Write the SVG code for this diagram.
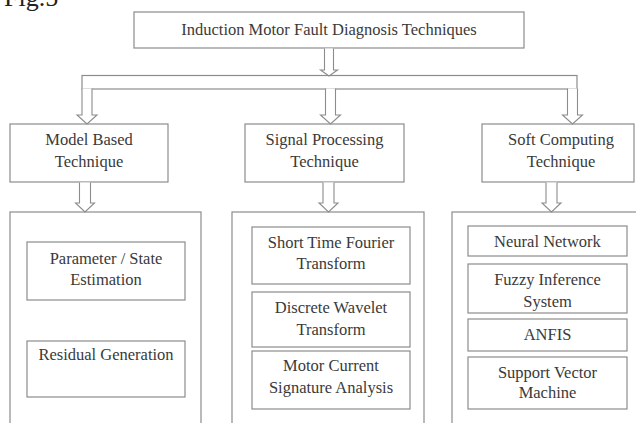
<svg xmlns="http://www.w3.org/2000/svg" width="636" height="423" viewBox="0 0 636 423">
<style>
.box{fill:#fff;stroke:#8c8c8c;stroke-width:1.2}
.arr{fill:#fff;stroke:#8c8c8c;stroke-width:1.1;stroke-linejoin:miter}
text{font-family:"Liberation Serif","Times New Roman",serif;font-size:16.5px;fill:#3a3a3a;text-anchor:middle}
</style>
<rect width="636" height="423" fill="#fff"/>
<text x="4" y="6" style="font-size:26px;text-anchor:start;fill:#222">Fig.5</text>

<g id="root">
<rect class="box" x="134" y="12" width="390" height="36"/>
<text x="329" y="35">Induction Motor Fault Diagnosis Techniques</text>
</g>

<g id="bar">
<rect class="box" x="82" y="75.5" width="495" height="13.5"/>
</g>

<g id="model">
<rect class="box" x="10" y="124" width="158" height="58"/>
<text x="89" y="145">Model Based</text>
<text x="89" y="167">Technique</text>
</g>
<g id="signal">
<rect class="box" x="245" y="124" width="159" height="58"/>
<text x="324.5" y="145">Signal Processing</text>
<text x="324.5" y="167">Technique</text>
</g>
<g id="soft">
<rect class="box" x="482" y="124" width="152" height="58"/>
<text x="561" y="145">Soft Computing</text>
<text x="561" y="167">Technique</text>
</g>

<g id="model-group">
<rect class="box" x="10" y="212" width="191" height="230"/>
<g id="param">
<rect class="box" x="27" y="242" width="158" height="58"/>
<text x="106" y="264">Parameter / State</text>
<text x="106" y="285">Estimation</text>
</g>
<g id="residual">
<rect class="box" x="27" y="341" width="158" height="56"/>
<text x="106" y="360">Residual Generation</text>
</g>
</g>

<g id="signal-group">
<rect class="box" x="232" y="212" width="192" height="230"/>
<g id="stft">
<rect class="box" x="252" y="227" width="158" height="57"/>
<text x="331" y="248">Short Time Fourier</text>
<text x="331" y="269">Transform</text>
</g>
<g id="dwt">
<rect class="box" x="252" y="292" width="158" height="55"/>
<text x="331" y="313">Discrete Wavelet</text>
<text x="331" y="335">Transform</text>
</g>
<g id="mcsa">
<rect class="box" x="252" y="351" width="158" height="58"/>
<text x="331" y="371">Motor Current</text>
<text x="331" y="393">Signature Analysis</text>
</g>
</g>

<g id="soft-group">
<rect class="box" x="452" y="212" width="200" height="230"/>
<g id="nn">
<rect class="box" x="468" y="226" width="159" height="30"/>
<text x="547.5" y="247">Neural Network</text>
</g>
<g id="fis">
<rect class="box" x="468" y="264" width="159" height="49"/>
<text x="547.5" y="285">Fuzzy Inference</text>
<text x="547.5" y="307">System</text>
</g>
<g id="anfis">
<rect class="box" x="468" y="319" width="159" height="32"/>
<text x="547.5" y="340">ANFIS</text>
</g>
<g id="svm">
<rect class="box" x="468" y="357" width="159" height="52"/>
<text x="547.5" y="378">Support Vector</text>
<text x="547.5" y="398">Machine</text>
</g>
</g>

<g id="connectors">
<path class="arr" d="M324.5,48.6 V70 H320.5 L329,76 L337.5,70 H333.5 V48.6"/>
<path class="arr" d="M82,88.4 V115 H77 L87,124 L97,115 H92 V88.4"/>
<path class="arr" d="M325.5,88.4 V115 H320.5 L330.5,124 L340.5,115 H335.5 V88.4"/>
<path class="arr" d="M567.5,88.4 V115 H562.5 L572.5,124 L582.5,115 H577.5 V88.4"/>
<path class="arr" d="M79.5,182.6 V203 H75.5 L85,212 L94.5,203 H90.5 V182.6"/>
<path class="arr" d="M323,182.6 V203 H319 L328.5,212 L338,203 H334 V182.6"/>
<path class="arr" d="M546,182.6 V203 H542 L551.5,212 L561,203 H557 V182.6"/>
</g>
</svg>
